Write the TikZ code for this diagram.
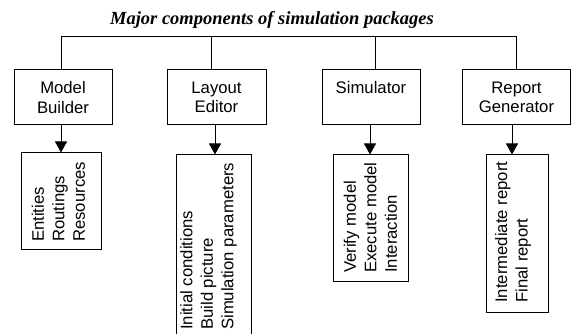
\documentclass[tikz,border=0pt]{standalone}
\usepackage{fontspec}
\setmainfont{Liberation Sans}
\newfontfamily\titlefont{Liberation Serif}
\usetikzlibrary{arrows.meta}
\begin{document}
\begin{tikzpicture}[x=1pt,y=-1pt,
  comp/.style={draw,line width=1pt,minimum height=55pt,inner sep=0pt,align=center,font=\fontsize{16.7}{19.5}\selectfont},
  sub/.style={draw,line width=1pt,inner sep=0pt},
  subtext/.style={rotate=90,anchor=west,align=left,inner sep=0pt,font=\fontsize{16.7}{20.5}\selectfont},
  link/.style={line width=1pt},
  arr/.style={line width=1pt,-{Triangle[width=12pt,length=11pt]}}]
\useasboundingbox (0,0) rectangle (571,334);
\node[anchor=base,inner sep=0pt,font=\titlefont\bfseries\itshape\fontsize{18.5}{22}\selectfont] (title) at (272,25) {Major components of simulation packages};
% top boxes
\node[comp,minimum width=98pt] (mb) at (63,97.5) {Model\\Builder};
\node[comp,minimum width=99pt] (le) at (216.5,97.5) {Layout\\Editor};
\node[comp,minimum width=98pt] (si) at (371,97.5) {Simulator\\\mbox{}};
\node[comp,minimum width=108pt] (rg) at (516.5,97.5) {Report\\Generator};
% bus
\coordinate (b1) at (61,37);
\coordinate (b2) at (211,37);
\coordinate (b3) at (375,37);
\coordinate (b4) at (516,37);
\draw[link] (b1 |- mb.north) -- (b1) -- (b4) -- (b4 |- rg.north);
\draw[link] (b2) -- (b2 |- le.north);
\draw[link] (b3) -- (b3 |- si.north);
% sub boxes
\node[sub,minimum width=80pt,minimum height=97pt] (c1) at (61,201.5) {};
\node[sub,minimum width=75pt,minimum height=185pt] (c2) at (213.5,247.5) {};
\node[sub,minimum width=75pt,minimum height=126pt] (c3) at (370.5,218) {};
\node[sub,minimum width=62pt,minimum height=157pt] (c4) at (517,233.5) {};
\node[subtext] (t1) at (58.5,242) {Entities\\Routings\\Resources};
\node[subtext] (t2) at (208.5,330) {Initial conditions\\Build picture\\Simulation parameters};
\node[subtext] (t3) at (370.5,273) {Verify model\\Execute model\\Interaction};
\node[subtext] (t4) at (513,303) {Intermediate report\\Final report};
% arrows
\coordinate (a1) at (61,0);
\coordinate (a2) at (215,0);
\coordinate (a3) at (370,0);
\coordinate (a4) at (512,0);
\draw[arr] (a1 |- mb.south) -- (a1 |- c1.north);
\draw[arr] (a2 |- le.south) -- (a2 |- c2.north);
\draw[arr] (a3 |- si.south) -- (a3 |- c3.north);
\draw[arr] (a4 |- rg.south) -- (a4 |- c4.north);
\end{tikzpicture}
\end{document}
